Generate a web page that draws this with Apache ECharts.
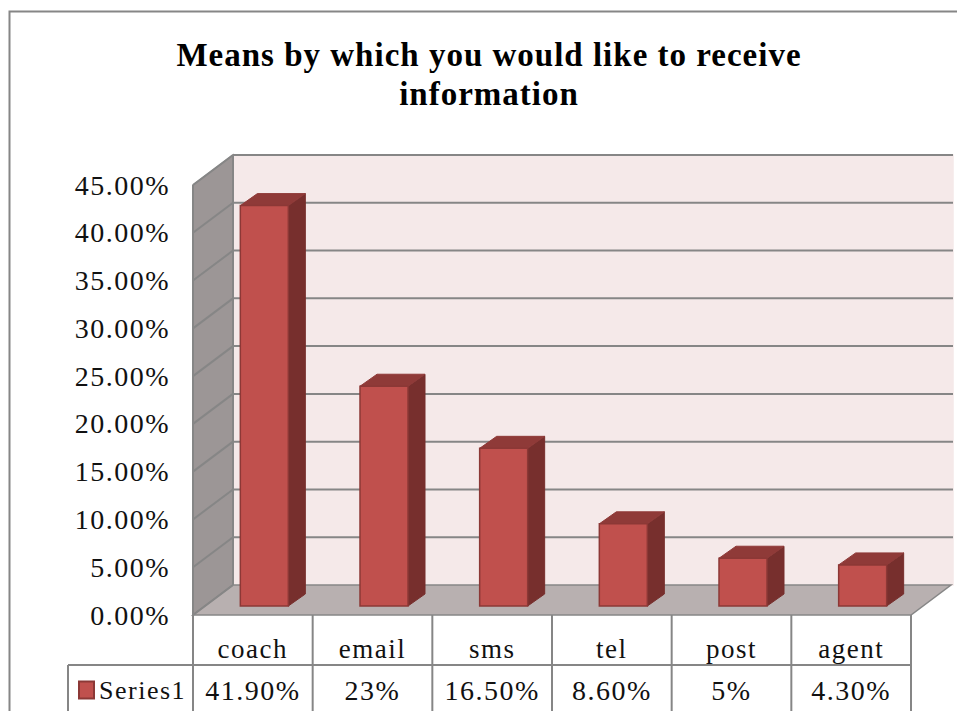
<!DOCTYPE html>
<html><head><meta charset="utf-8">
<style>html,body{margin:0;padding:0;background:#fff}#c{width:957px;height:711px}
#c svg text{letter-spacing:1.5px}
#c svg text[style*="bold"]{letter-spacing:1px}
</style>
<script src="https://cdn.jsdelivr.net/npm/echarts@6/dist/echarts.min.js"></script>
</head><body><div id="c"></div>
<script>
const titleText = 'Means by which you would like to receive\ninformation';
const categories = ['coach','email','sms','tel','post','agent'];
const seriesName = 'Series1';
const values = [41.9,23,16.5,8.6,5,4.3];
const tableLabels = ['41.90%','23%','16.50%','8.60%','5%','4.30%'];
const ticks = [0,5,10,15,20,25,30,35,40,45];

const FONT = '"Liberation Serif","Times New Roman",serif';
const FS = 27, FS_NUM = 28;
const LINE = '#868686';
const DX = 40, DY = -30;          // wall depth
const ln = (x1,y1,x2,y2,w) => ({type:'line',shape:{x1,y1,x2,y2},style:{stroke:LINE,lineWidth:w||2,fill:null},silent:true});
const poly = (points,fill,stroke) => ({type:'polygon',shape:{points},style:{fill,stroke:stroke||LINE,lineWidth:1.5},silent:true});

function renderWalls(params, api){
  const c = params.coordSys;
  const L=c.x, R=c.x+c.width, T=c.y, B=c.y+c.height;
  const kids = [
    poly([[L+DX,T+DY],[R+DX+2,T+DY],[R+DX+2,B+DY],[L+DX,B+DY]],'#f5e9e9','#f5e9e9'),
    poly([[L,T],[L+DX,T+DY],[L+DX,B+DY],[L,B]],'#9c9696'),
    poly([[L,B],[L+DX,B+DY],[R+DX,B+DY],[R,B]],'#b8b0b0')
  ];
  ticks.forEach(t=>{
    const y = api.coord([0,t])[1];
    if(t>0) kids.push(ln(L+DX,y+DY,R+DX+2,y+DY));
    kids.push(ln(L,y,L+DX,y+DY));
  });
  kids.push(ln(L+DX,T+DY,L+DX,B+DY));
  kids.push(ln(L,T,L,B));
  return {type:'group',children:kids};
}
function renderBar(params, api){
  const i = api.value(0), v = api.value(1);
  const top = api.coord([i,v]), base = api.coord([i,0]);
  const w = 48, ox = 11.5, oy = -9, dx = 17, dy = -12;
  const x0 = base[0]+ox-w/2, x1 = x0+w, yB = base[1]+oy, yT = top[1]+oy;
  const edge = '#8c3836';
  return {type:'group',children:[
    {type:'polygon',shape:{points:[[x1,yT],[x1+dx,yT+dy],[x1+dx,yB+dy],[x1,yB]]},style:{fill:'#772f2d',stroke:'#772f2d',lineWidth:1}},
    {type:'polygon',shape:{points:[[x0,yT],[x0+dx,yT+dy],[x1+dx,yT+dy],[x1,yT]]},style:{fill:'#8f3a38',stroke:'#8f3a38',lineWidth:1}},
    {type:'rect',shape:{x:x0,y:yT,width:w,height:yB-yT},style:{fill:'#c0504d',stroke:edge,lineWidth:1.5}}
  ]};
}
function renderTable(params, api){
  const c = params.coordSys;
  const i = api.value(0);
  const x = api.coord([i,0])[0];
  const L=c.x, R=c.x+c.width, B=c.y+c.height;
  const kids = [{type:'text',x,y:B+75,style:{text:tableLabels[i],font:FS_NUM+'px '+FONT,fill:'#111',align:'center',verticalAlign:'middle'},silent:true}];
  const colW = c.width/categories.length;
  kids.push(ln(x+colW/2,B,x+colW/2,711));
  if(i===0){
    kids.push(ln(L,B,L,711));
    kids.push(ln(68,B+50,R,B+50));
    kids.push(ln(68,B+50,68,711));
  }
  return {type:'group',children:kids};
}
const chart = echarts.init(document.getElementById('c'),null,{renderer:'svg'});
chart.setOption({
  backgroundColor:'#fff',
  animation:false,
  title:{text:titleText,left:484,top:30,textAlign:'center',
    textStyle:{fontFamily:FONT,fontWeight:'bold',fontSize:33,lineHeight:39,color:'#000'}},
  legend:{data:[seriesName],left:78,top:677,padding:0,itemWidth:15,itemHeight:17,itemGap:0,icon:'rect',
    textStyle:{fontFamily:FONT,fontSize:26,color:'#111'}},
  grid:{left:193,right:46,top:185,bottom:96},
  xAxis:{type:'category',data:categories,axisLine:{show:false},axisTick:{show:false},
    axisLabel:{margin:20,fontFamily:FONT,fontSize:FS,color:'#111'}},
  yAxis:{type:'value',min:0,max:45,interval:5,axisLine:{show:false},axisTick:{show:false},splitLine:{show:false},
    axisLabel:{margin:23,padding:[4,0,0,0],fontFamily:FONT,fontSize:FS_NUM,color:'#111',formatter:v=>v.toFixed(2)+'%'}},
  series:[
    {type:'custom',silent:true,clip:false,z:1,renderItem:renderWalls,data:[[0,0]],encode:{x:0,y:1},tooltip:{show:false}},
    {type:'custom',name:seriesName,clip:false,z:3,renderItem:renderBar,itemStyle:{color:'#c0504d',borderColor:'#8c3836',borderWidth:1.5},
      data:categories.map((c,i)=>[i,values[i]]),encode:{x:0,y:1}},
    {type:'custom',silent:true,clip:false,z:2,renderItem:renderTable,data:categories.map((c,i)=>[i,0]),encode:{x:0,y:1}}
  ],
  graphic:[{type:'polyline',shape:{points:[[9.5,711],[9.5,11.5],[957,11.5]]},style:{stroke:LINE,lineWidth:2,fill:null},silent:true}]
});
</script></body></html>
